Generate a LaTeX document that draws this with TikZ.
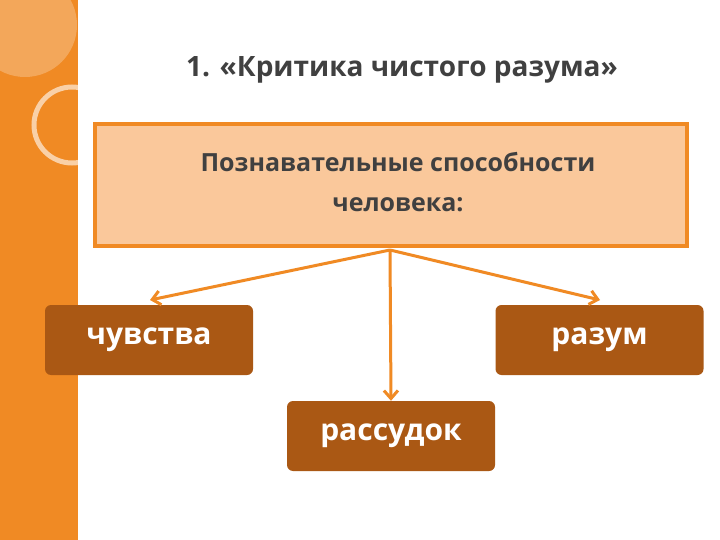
\documentclass[tikz,border=0pt]{standalone}
\usepackage{fontspec}
\setmainfont{Open Sans}
\usetikzlibrary{arrows.meta}
\definecolor{orng}{RGB}{240,138,36}
\definecolor{brwn}{RGB}{170,88,20}
\definecolor{peach}{RGB}{250,200,155}
\definecolor{dgray}{RGB}{64,64,64}
\begin{document}
\begin{tikzpicture}[x=1pt,y=-1pt,
  brownbox/.style={draw=none,fill=brwn,rounded corners=6pt,text=white,font=\bfseries\fontsize{30}{34}\selectfont,minimum width=208pt,minimum height=70pt},
  arr/.style={draw=orng,line width=3pt,-{Straight Barb[length=8pt,width=14pt]}}]
\useasboundingbox (0,0) rectangle (720,540);
\fill[white] (0,0) rectangle (720,540);
\fill[orng] (0,0) rectangle (78,540);
\begin{scope}
\clip (0,0) rectangle (78,540);
\fill[white,opacity=0.25] (25,25) circle (52);
\draw[white,opacity=0.6,line width=5pt] (72,125) circle (38);
\end{scope}
\node[text=dgray,font=\bfseries\fontsize{28}{32}\selectfont] (title) at (402,70) {1. «Критика чистого разума»};
\node[draw=orng,line width=4pt,fill=peach,minimum width=592pt,minimum height=122pt] (main) at (390.5,185) {};
\node[text=dgray,font=\bfseries\fontsize{25}{40}\selectfont,align=center] (mt) at (398,182) {Познавательные способности\\человека:};
\coordinate (src) at (390,250);
\node[brownbox] (a) at (149,340) {чувства};
\node[brownbox] (b) at (599.5,340) {разум};
\node[brownbox] (c) at (391,436) {рассудок};
\draw[arr] (src) -- (150,300);
\draw[arr] (src) -- (600,300);
\draw[arr] (src) -- (c.north);
\end{tikzpicture}
\end{document}
